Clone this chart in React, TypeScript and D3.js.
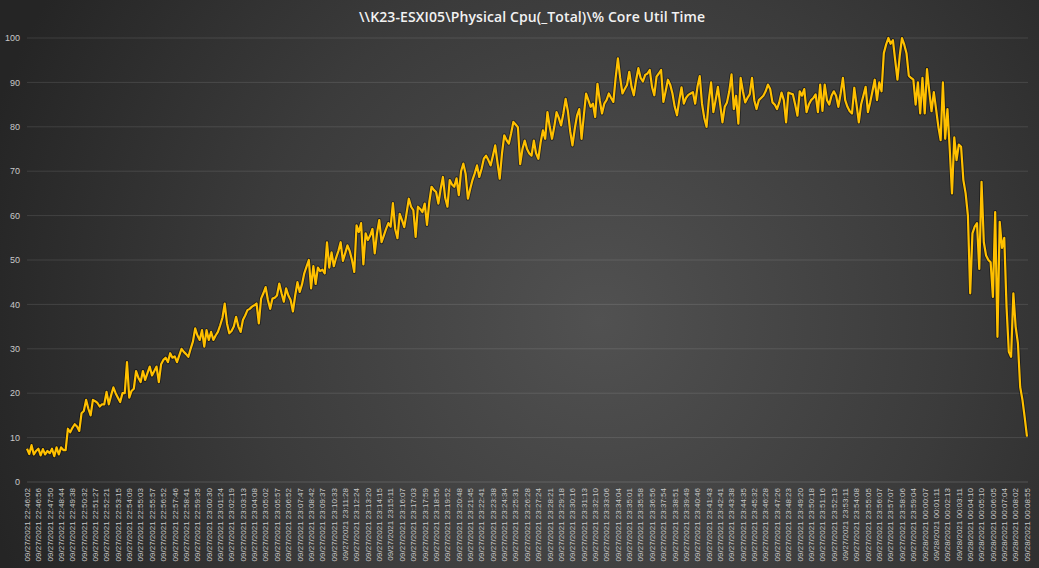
import React from "react";
import * as d3 from "d3";

const W = 1039;
const H = 568;

const titleText = "\\\\K23-ESXI05\\Physical Cpu(_Total)\\% Core Util Time";

const yTicks = [0, 10, 20, 30, 40, 50, 60, 70, 80, 90, 100];

const tickTimes = [
  "22:46:02", "22:46:56", "22:47:50", "22:48:44", "22:49:38", "22:50:32", "22:51:27", "22:52:21", "22:53:15", "22:54:09",
  "22:55:03", "22:55:57", "22:56:52", "22:57:46", "22:58:41", "22:59:35", "23:00:30", "23:01:24", "23:02:19", "23:03:13",
  "23:04:08", "23:05:02", "23:05:57", "23:06:52", "23:07:47", "23:08:42", "23:09:37", "23:10:33", "23:11:28", "23:12:24",
  "23:13:20", "23:14:15", "23:15:11", "23:16:07", "23:17:03", "23:17:59", "23:18:56", "23:19:52", "23:20:48", "23:21:45",
  "23:22:41", "23:23:38", "23:24:34", "23:25:31", "23:26:28", "23:27:24", "23:28:21", "23:29:18", "23:30:16", "23:31:13",
  "23:32:10", "23:33:06", "23:34:04", "23:35:01", "23:35:58", "23:36:56", "23:37:54", "23:38:51", "23:39:49", "23:40:46",
  "23:41:43", "23:42:41", "23:43:38", "23:44:35", "23:45:32", "23:46:28", "23:47:26", "23:48:23", "23:49:20", "23:50:18",
  "23:51:16", "23:52:13", "23:53:11", "23:54:08", "23:55:05", "23:56:07", "23:57:07", "23:58:06", "23:59:04", "00:00:07",
  "00:01:11", "00:02:13", "00:03:11", "00:04:10", "00:05:10", "00:06:05", "00:07:04", "00:08:02", "00:08:55",
];
const tickLabels = tickTimes.map(
  (t) => (t.startsWith("00:") ? "09/28/2021 " : "09/27/2021 ") + t
);
const pointsPerLabel = 5;

const cpuValues = [
  7.5, 6.3, 8.3, 6.2, 7.0, 7.5, 6.0, 7.4, 6.2, 7.0,
  6.5, 7.5, 5.8, 7.8, 6.2, 7.8, 7.2, 7.2, 12.0, 11.2,
  12.2, 13.0, 12.5, 11.5, 15.5, 16.0, 18.5, 16.5, 15.0, 18.5,
  18.2, 17.8, 17.0, 17.5, 17.5, 20.3, 17.5, 19.5, 21.3, 20.0,
  19.0, 18.0, 20.0, 20.0, 27.0, 19.0, 20.5, 21.0, 25.0, 23.5,
  22.5, 25.0, 23.0, 24.5, 26.0, 24.0, 25.0, 26.0, 22.5, 26.5,
  27.5, 28.0, 27.0, 29.0, 28.0, 28.3, 27.0, 28.5, 30.0, 29.3,
  28.8, 28.2, 30.0, 31.6, 34.6, 33.0, 32.0, 34.2, 30.5, 34.2,
  32.0, 33.8, 32.0, 33.0, 33.8, 35.3, 37.0, 40.2, 35.7, 33.5,
  34.0, 35.0, 37.2, 35.0, 33.8, 36.5, 37.5, 38.7, 39.0, 39.5,
  39.8, 40.2, 35.7, 41.3, 42.5, 43.9, 41.0, 39.0, 41.3, 41.5,
  42.0, 44.7, 42.5, 40.6, 43.6, 42.0, 41.0, 38.4, 42.0, 45.0,
  42.8, 44.5, 47.0, 48.5, 50.0, 43.6, 48.6, 44.6, 48.3, 47.5,
  47.8, 47.0, 54.0, 48.3, 51.7, 48.6, 50.5, 52.0, 54.0, 49.8,
  51.5, 53.3, 52.0, 50.0, 47.3, 57.8, 56.3, 58.3, 49.0, 56.0,
  54.5, 55.5, 57.0, 51.5, 56.0, 59.0, 54.0, 55.5, 57.0, 58.3,
  57.5, 62.8, 57.0, 54.9, 60.4, 59.0, 57.4, 60.5, 63.8, 62.0,
  61.2, 55.2, 62.0, 61.5, 60.8, 62.7, 57.9, 63.0, 66.5, 65.8,
  65.3, 62.7, 66.0, 68.7, 64.0, 62.0, 68.0, 67.0, 66.5, 68.4,
  64.6, 70.0, 71.7, 69.4, 63.8, 66.0, 68.0, 69.5, 71.3, 68.7,
  70.5, 72.8, 73.5, 72.5, 71.3, 73.5, 75.8, 72.0, 68.3, 74.0,
  78.1, 77.0, 76.2, 78.5, 81.1, 80.5, 79.9, 71.6, 75.0, 76.9,
  75.0, 74.0, 73.5, 76.9, 74.0, 72.8, 76.5, 79.2, 77.3, 83.3,
  80.0, 77.3, 80.0, 83.3, 82.0, 80.3, 83.0, 86.3, 83.5, 79.0,
  75.8, 79.5, 82.5, 84.0, 77.3, 82.5, 87.5, 86.0, 84.5, 85.2,
  82.2, 89.7, 86.0, 83.0, 85.2, 86.0, 87.5, 86.5, 85.6, 91.0,
  95.4, 91.0, 87.5, 88.5, 89.4, 92.4, 89.0, 87.1, 90.5, 93.2,
  91.0, 90.2, 91.7, 92.0, 92.8, 89.0, 87.1, 91.3, 92.0, 92.8,
  85.6, 88.0, 90.6, 89.5, 87.5, 84.5, 82.6, 86.0, 88.9, 85.2,
  86.5, 87.2, 87.5, 87.8, 85.2, 89.0, 91.4, 85.2, 82.0, 80.0,
  86.0, 90.0, 83.3, 86.0, 89.0, 85.0, 81.0, 84.5, 85.5, 88.0,
  91.8, 84.0, 87.0, 80.7, 91.0, 88.0, 85.5, 86.5, 87.3, 91.0,
  86.0, 84.0, 86.0, 86.5, 87.0, 88.0, 89.5, 88.5, 85.5, 85.0,
  84.0, 85.5, 87.7, 86.0, 81.0, 87.7, 87.5, 87.3, 85.0, 82.5,
  88.0, 87.0, 88.5, 83.3, 85.0, 86.0, 86.5, 87.3, 83.3, 89.5,
  83.6, 89.5, 86.0, 85.0, 87.0, 88.0, 87.0, 84.5, 87.5, 91.0,
  86.0, 84.5, 83.5, 83.0, 88.8, 85.0, 81.0, 85.0, 87.0, 89.0,
  83.3, 85.5, 88.0, 90.6, 86.0, 90.0, 88.0, 96.6, 98.5, 100.0,
  98.7, 99.5, 95.0, 90.6, 96.0, 100.0, 98.5, 96.5, 91.5, 91.0,
  90.6, 85.0, 90.0, 83.0, 91.0, 83.0, 93.0, 88.0, 83.5, 87.8,
  84.0, 80.0, 77.0, 90.0, 77.3, 84.0, 75.0, 65.0, 77.6, 72.5,
  76.0, 75.5, 68.0, 65.0, 60.0, 42.5, 56.0, 57.5, 58.3, 48.0,
  67.6, 54.0, 51.0, 50.0, 49.5, 41.7, 60.8, 32.7, 58.6, 52.7,
  55.0, 39.4, 29.3, 28.2, 42.5, 35.0, 31.3, 21.4, 18.5, 14.5,
  10.2,
];

export default function App() {
  const left = 27;
  const right = 1028;
  const top = 38;
  const bottom = 482;

  const x = d3.scaleLinear().domain([0, cpuValues.length - 1]).range([left, right - 1]);
  const y = d3.scaleLinear().domain([0, 100]).range([bottom, top]);

  const line = d3
    .line<number>()
    .x((_, i) => x(i))
    .y((d) => y(d));
  const path = line(cpuValues) || "";

  return (
    <svg
      width={W}
      height={H}
      style={{ position: "absolute", left: 0, top: 0, display: "block" }}
      fontFamily="'Liberation Sans', Arial, sans-serif"
    >
      <defs>
        <radialGradient id="bg" gradientUnits="userSpaceOnUse" cx={600} cy={320} r={640}>
          <stop offset="0%" stopColor="#515151" />
          <stop offset="55%" stopColor="#3b3b3b" />
          <stop offset="100%" stopColor="#252525" />
        </radialGradient>
      </defs>
      <rect x={0} y={0} width={W} height={H} fill="url(#bg)" />

      <text
        x={532}
        y={22}
        textAnchor="middle"
        fill="#f2f2f2"
        fontSize={14}
        fontWeight={600}
        fontFamily="'Open Sans', sans-serif"
        textLength={346}
        lengthAdjust="spacing"
      >
        {titleText}
      </text>

      {yTicks.map((t) => (
        <g key={t}>
          <line
            x1={left}
            x2={right}
            y1={y(t)}
            y2={y(t)}
            stroke={t === 0 ? "rgba(255,255,255,0.16)" : "rgba(255,255,255,0.11)"}
            strokeWidth={1}
          />
          <text
            x={20}
            y={y(t)}
            dy="0.35em"
            textAnchor="end"
            fill="#c8c8c8"
            fontSize={9}
          >
            {t}
          </text>
        </g>
      ))}

      {tickLabels.map((lab, k) => {
        const px = x(k * pointsPerLabel);
        return (
          <text
            key={k}
            transform={`translate(${px},488) rotate(-90)`}
            dy="0.35em"
            textAnchor="end"
            fill="#c8c8c8"
            fontSize={8}
          >
            {lab}
          </text>
        );
      })}

      <path d={path} fill="none" stroke="rgba(0,0,0,0.45)" strokeWidth={4} strokeLinejoin="round" />
      <path d={path} fill="none" stroke="#FFC000" strokeWidth={2.2} strokeLinejoin="round" />
    </svg>
  );
}
